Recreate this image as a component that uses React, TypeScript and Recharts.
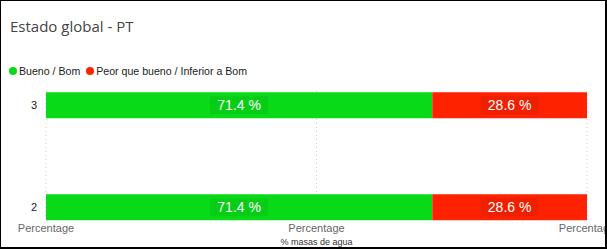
import React from "react";
import { BarChart, Bar, XAxis, YAxis, CartesianGrid, Legend, LabelList, Label } from "recharts";

const categories = ["3", "2"];
const buenoValues = [0.714, 0.714];
const peorValues = [0.286, 0.286];
const xTicks = [0, 0.5, 1];
const xTickText = "Percentage";
const seriesNames = ["Bueno / Bom", "Peor que bueno / Inferior a Bom"];
const seriesColors = ["#08DA18", "#FE2200"];
const title = "Estado global - PT";
const xAxisTitle = "% masas de agua";

const data = categories.map((c, i) => ({ cat: c, bueno: buenoValues[i], peor: peorValues[i] }));

const fmt = (v: number) => `${(v * 100).toFixed(1)} %`;

const DataLabel = (props: any) => {
  const { x, y, width, height, value } = props;
  const cx = Number(x) + Number(width) / 2;
  const cy = Number(y) + Number(height) / 2;
  return (
    <g>
      <rect x={cx - 29} y={cy - 9} width={58} height={18} rx={2} fill="rgba(0,0,0,0.06)" />
      <text
        x={cx}
        y={cy}
        dy="0.36em"
        textAnchor="middle"
        fill="#ffffff"
        fontSize={14}
        fontFamily="'Liberation Sans', Arial, sans-serif"
      >
        {fmt(Number(value))}
      </text>
    </g>
  );
};

const LegendContent = () => (
  <div style={{ display: "flex", alignItems: "center", fontFamily: "'Liberation Sans', Arial, sans-serif", fontSize: 10.6, color: "#222", height: 16 }}>
    {seriesNames.map((n, i) => (
      <div key={n} style={{ display: "flex", alignItems: "center", marginRight: 6 }}>
        <span style={{ display: "inline-block", width: 8, height: 8, borderRadius: 4, background: seriesColors[i], marginRight: 2 }} />
        <span>{n}</span>
      </div>
    ))}
  </div>
);

export default function App() {
  return (
    <div style={{ position: "fixed", left: 0, top: 0, width: 607, height: 249, background: "#fff", overflow: "hidden" }}>
      <div
        style={{
          position: "absolute",
          left: 10,
          top: 16,
          fontFamily: "'Open Sans', sans-serif",
          fontSize: 15,
          lineHeight: "20px",
          color: "#444",
          whiteSpace: "nowrap",
        }}
      >
        {title}
      </div>
      <div style={{ position: "absolute", left: 0, top: 0 }}>
        <BarChart
          width={607}
          height={249}
          data={data}
          layout="vertical"
          margin={{ top: 75, right: 20, left: 0, bottom: 0 }}
        >
          <Legend
            verticalAlign="top"
            align="left"
            content={<LegendContent />}
            wrapperStyle={{ position: "absolute", top: 63, left: 9, height: 16, width: 400 }}
          />
          <CartesianGrid horizontal={false} stroke="#cccccc" strokeDasharray="1 3" />
          <XAxis
            type="number"
            domain={[0, 1]}
            ticks={xTicks}
            tickFormatter={() => xTickText}
            axisLine={false}
            tickLine={false}
            tickSize={0}
            tickMargin={3}
            height={28}
            interval={0}
            tick={{ fill: "#666", fontSize: 11, fontFamily: "'Liberation Sans', Arial, sans-serif" }}
          >
            <Label
              value={xAxisTitle}
              position="insideBottom"
              offset={4}
              style={{ fill: "#333", fontSize: 9, fontFamily: "'Liberation Sans', Arial, sans-serif" }}
            />
          </XAxis>
          <YAxis
            type="category"
            dataKey="cat"
            width={46}
            axisLine={false}
            tickLine={false}
            tickSize={0}
            tickMargin={9}
            padding={{ top: -36.75, bottom: -37.25 }}
            tick={{ fill: "#222", fontSize: 11, fontFamily: "'Liberation Sans', Arial, sans-serif" }}
          />
          <Bar dataKey="bueno" name={seriesNames[0]} stackId="a" fill={seriesColors[0]} barSize={26} isAnimationActive={false}>
            <LabelList dataKey="bueno" content={<DataLabel />} />
          </Bar>
          <Bar dataKey="peor" name={seriesNames[1]} stackId="a" fill={seriesColors[1]} barSize={26} isAnimationActive={false}>
            <LabelList dataKey="peor" content={<DataLabel />} />
          </Bar>
        </BarChart>
      </div>
      <div
        style={{
          position: "absolute",
          left: 0,
          top: 0,
          width: 607,
          height: 249,
          boxSizing: "border-box",
          borderTop: "1px solid #000",
          borderLeft: "1px solid #000",
          borderRight: "2px solid #000",
          borderBottom: "2px solid #000",
          pointerEvents: "none",
        }}
      />
    </div>
  );
}
